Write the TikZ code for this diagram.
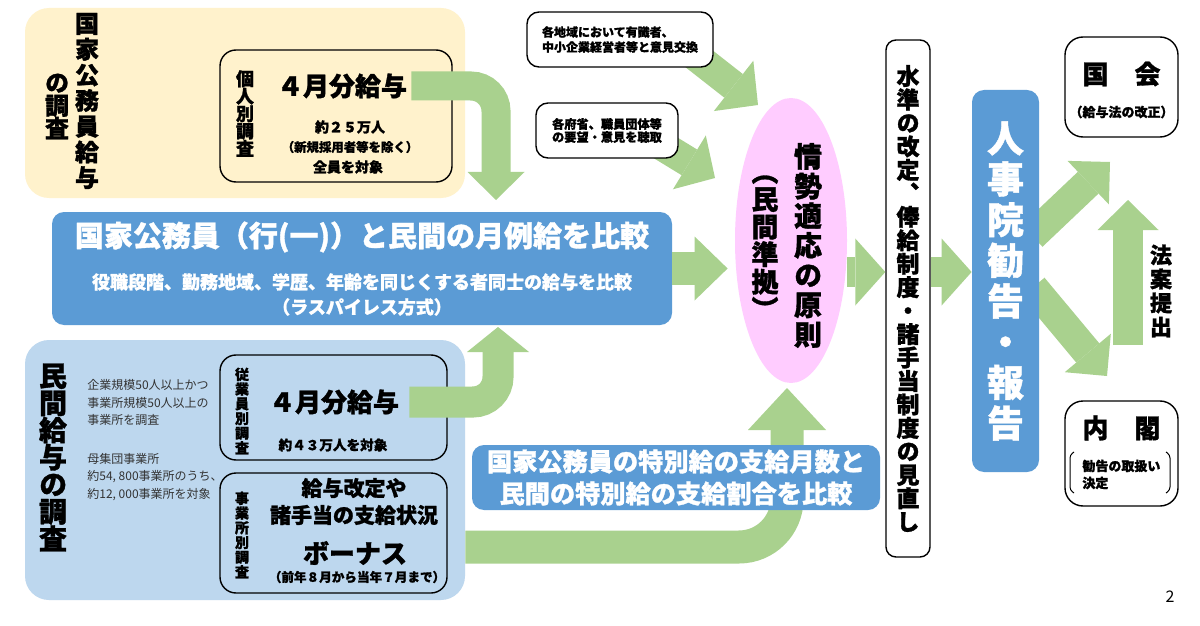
\documentclass[tikz,border=0pt]{standalone}
\usepackage{fontspec}
\setmainfont{Noto Sans CJK JP}[BoldFeatures={FakeBold=1.2}]
\newfontfamily\jpv{Noto Sans CJK JP}[BoldFeatures={FakeBold=1.2}, RawFeature=+vert]
\usetikzlibrary{arrows.meta, shapes.geometric, positioning}
\definecolor{colorCream}{HTML}{FFF2CC}
\definecolor{colorSky}{HTML}{BDD7EE}
\definecolor{colorBlue}{HTML}{5B9BD5}
\definecolor{colorPink}{HTML}{FFCCFF}
\definecolor{colorGreen}{HTML}{A9D18E}
\pgfdeclarelayer{fondo}
\pgfsetlayers{fondo,main}
\makeatletter
\newcommand\tate[2][1]{\vbox{\jpv\baselineskip=#1em\lineskiplimit=-\maxdimen
    \@tfor\tate@c:=#2\do{\hbox to 1em{\hss\tate@c\hss}}}}
\makeatother
\begin{document}
\begin{tikzpicture}[x=0.5pt, y=-0.5pt,
        zone/.style={rounded corners=12pt, inner sep=0pt},
        card/.style={draw, line width=0.7pt, rounded corners=8pt, inner sep=0pt},
        note/.style={card, fill=white, rounded corners=6pt, align=left},
        txt/.style={inner sep=0pt, align=center},
        fs/.style 2 args={font=\bfseries\fontsize{#1}{#2}\selectfont},
        gflow/.style={colorGreen, line width=15pt, rounded corners=12.5pt},
        gtip/.style 2 args={-{Triangle[length=#1, width=#2, line width=0pt]}}]
    \useasboundingbox (0,0) rectangle (1200,626);
    \begin{pgfonlayer}{fondo}
        \fill[white] (0,0) rectangle (1200,626);
    \end{pgfonlayer}
    % kokka komuin
    \node[zone, fill=colorCream, minimum width=220pt, minimum height=95pt] (kokka) at (245,103) {};
    \node[txt, fs={12}{12}] (kokkaT1) at (87,101) {\tate[1.07]{国家公務員給与}};
    \node[txt, fs={12}{12}] (kokkaT2) at (57,106.5) {\tate[0.95]{の調査}};
    \node[card, minimum width=116pt, minimum height=66pt] (kojin) at (336,116) {};
    \node[txt, fs={9}{9}] (kojinT) at (245,113.5) {\tate[0.97]{個人別調査}};
    \node[txt, fs={13}{13}, inner sep=2pt] (kyA) at (342,86) {４月分給与};
    \node[txt, fs={7}{7}] (kyA1) at (350,127) {約２５万人};
    \node[txt, fs={6.2}{6.2}] (kyA2) at (350,147) {（新規採用者等を除く）};
    \node[txt, fs={7}{7}] (kyA3) at (348,167) {全員を対象};
    % minkan
    \node[zone, fill=colorSky, minimum width=220pt, minimum height=130pt] (minkan) at (245,470) {};
    \node[txt, fs={14}{14}] (minkanT) at (53,457.5) {\tate[0.97]{民間給与の調査}};
    \node[txt, align=left, anchor=west, text=black!80, font=\fontsize{6}{8.75}\selectfont] (minkanN1) at (87,402.5) {企業規模50人以上かつ\\事業所規模50人以上の\\事業所を調査};
    \node[txt, align=left, anchor=west, text=black!80, font=\fontsize{6}{8.75}\selectfont] (minkanN2) at (87,477) {母集団事業所\\約54, 800事業所のうち、\\約12, 000事業所を対象};
    \node[card, minimum width=113.5pt, minimum height=52.5pt] (jugyoin) at (333.5,407.5) {};
    \node[txt, fs={7}{7}] (jugyoinT) at (242,411) {\tate[1.05]{従業員別調査}};
    \node[txt, fs={13}{13}, inner sep=2pt] (kyB) at (334,402) {４月分給与};
    \node[txt, fs={6.8}{6.8}] (kyB1) at (333,445) {約４３万人を対象};
    \node[card, minimum width=113.5pt, minimum height=60pt] (jigyosho) at (333.5,533) {};
    \node[txt, fs={7}{7}] (jigyoshoT) at (242,535) {\tate[1.05]{事業所別調査}};
    \node[txt, fs={10.5}{13.5}] (kaitei) at (354,501.5) {給与改定や\\諸手当の支給状況};
    \node[txt, fs={13}{13}] (bonus) at (355,553) {ボーナス};
    \node[txt, fs={6.3}{6.3}] (bonusK) at (357,577) {（前年８月から当年７月まで）};
    % hikaku
    \node[zone, fill=colorBlue, rounded corners=6pt, minimum width=310pt, minimum height=56.5pt] (hikaku) at (362,268.5) {};
    \node[txt, fs={14.5}{14.5}, text=white] (hikakuT) at (362,237) {国家公務員（行(一)）と民間の月例給を比較};
    \node[txt, fs={9}{12.5}, text=white] (hikakuS) at (362,294.5) {役職段階、勤務地域、学歴、年齢を同じくする者同士の給与を比較\\（ラスパイレス方式）};
    \coordinate (a1) at (496,200);
    \coordinate (a2) at (498,327);
    \coordinate (a3) at (787,388);
    \draw[gflow, line width=14.5pt, gtip={14pt}{28.5pt}] (kyA.east) -| (a1);
    \draw[gflow, line width=15.5pt, gtip={12.5pt}{31pt}] ([xshift=3pt]kyB.east) -| (a2);
    \draw[gflow, line width=16.5pt, rounded corners=24pt, gtip={21pt}{39pt}] (minkan.east |- 0,547) -| (a3);
    \node[zone, txt, fill=colorBlue, rounded corners=6pt, minimum width=204pt, minimum height=32.5pt, fs={12.6}{16}, text=white] (tokubetsu) at (676,477.5) {国家公務員の特別給の支給月数と\\民間の特別給の支給割合を比較};
    % iken
    \node[note, fs={6}{7.5}, minimum width=93pt, minimum height=27.5pt] (iken) at (620,39.5) {各地域において有識者、\\中小企業経営者等と意見交換};
    \node[note, fs={6.1}{6.5}, minimum width=71pt, minimum height=27.5pt] (yobo) at (607,130.5) {各府省、職員団体等\\の要望・意見を聴取};
    \node[ellipse, fill=colorPink, inner sep=0pt, minimum width=56pt, minimum height=142.5pt] (gensoku) at (791,240.5) {};
    \node[txt, fs={14}{14}] (gensokuT) at (808,245.5) {\tate[1.06]{情勢適応の原則}};
    \node[txt, fs={13.5}{13.5}] (junkyo) at (765,247.5) {\tate[1.02]{（民間準拠）}};
    \node[card, fill=white, rounded corners=5pt, minimum width=22pt, minimum height=258.5pt, fs={11.5}{11.5}] (suijun) at (908,298.5) {\tate[1.02]{水準の改定、俸給制度・諸手当制度の見直し}};
    \node[zone, fill=colorBlue, rounded corners=6pt, minimum width=33.5pt, minimum height=191pt, text=white, fs={18.5}{18.5}] (jinji) at (1005.5,281) {\tate[1.1]{人事院勧告・報告}};
    \draw[gflow, line width=16.5pt, gtip={16.5pt}{32pt}, shorten >=3.5pt] (hikaku.east) -- (gensoku.west |- hikaku.east);
    \draw[gflow, gtip={15pt}{33.5pt}] (gensoku.east |- 0,272) -- (suijun.west |- 0,272);
    \draw[gflow, gtip={15pt}{33.5pt}] (suijun.east |- 0,272) -- (jinji.west |- 0,272);
    % kokkai / naikaku
    \node[card, rounded corners=9pt, minimum width=56.5pt, minimum height=50pt] (kokkai) at (1121.5,87) {};
    \node[txt, fs={13}{13}] (kokkaiT) at (1121.5,74) {国　会};
    \node[txt, fs={6.5}{6.5}] (kokkaiS) at (1121.5,112) {（給与法の改正）};
    \node[card, rounded corners=9pt, minimum width=56.5pt, minimum height=52.5pt] (naikaku) at (1121.5,453.5) {};
    \node[txt, fs={13}{13}] (naikakuT) at (1121.5,428) {内　閣};
    \node[txt, fs={6.5}{8.5}, align=left, anchor=west] (naikakuS) at (1082,474.5) {勧告の取扱い\\決定};
    \draw[line width=0.5pt, rounded corners=1.5pt] (1074,452) -- (1070,455) -- (1070,490) -- (1074,493);
    \draw[line width=0.5pt, rounded corners=1.5pt] (1166,452) -- (1170,455) -- (1170,490) -- (1166,493);
    \node[txt, fs={11}{11}] (teishutsu) at (1161,291) {\tate[1.09]{法案提出}};
    \coordinate (h1) at (1128,345);
    \coordinate (h2) at (1128,200);
    \draw[gflow, gtip={15pt}{30.5pt}] (h1) -- (h2);
    \coordinate (t7) at (758,105);
    \coordinate (t8) at (715,178);
    \coordinate (t9) at (1110,162);
    \coordinate (t10) at (1107,376);
    \begin{pgfonlayer}{fondo}
        \draw[gflow, gtip={15.5pt}{32pt}] ([shift={(-25,-17)}]iken.south east) -- (t7);
        \draw[gflow, gtip={15pt}{31.5pt}] ([shift={(-33,-23)}]yobo.south east) -- (t8);
        \draw[gflow, gtip={15pt}{30pt}, shorten <=-5pt] (jinji.east |- 0,229) -- (t9);
        \draw[gflow, gtip={15pt}{30pt}, shorten <=-5pt] (jinji.east |- 0,295) -- (t10);
    \end{pgfonlayer}
    \node[inner sep=0pt, font=\fontsize{8}{8}\selectfont] (pagina) at (1170,597) {2};
\end{tikzpicture}
\end{document}
